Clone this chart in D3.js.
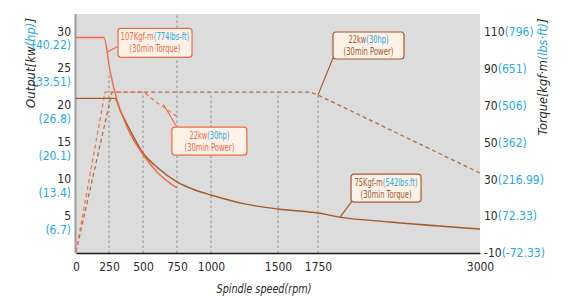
<!DOCTYPE html>
<html>
<head>
<meta charset="utf-8">
<script src="https://cdn.jsdelivr.net/npm/d3@7"></script>
<style>
  body { margin: 0; background: #fff; }
  svg { display: block; font-family: "DejaVu Sans Condensed", "DejaVu Sans", sans-serif; font-stretch: condensed; }
</style>
</head>
<body>
<svg id="chart" width="572" height="299"></svg>
<script>
// --- data ---
const speedTicks = [0, 250, 500, 750, 1000, 1500, 1750, 3000];
const outputTicks = [30, 25, 20, 15, 10, 5];
const outputTicksHp = ["40.22", "33.51", "26.8", "20.1", "13.4", "6.7"];
const torqueTicks = [110, 90, 70, 50, 30, 10, -10];
const torqueTicksLbs = ["796", "651", "506", "362", "216.99", "72.33", "-72.33"];

// [rpm, kgf-m]
const torque107 = [[0, 107], [212, 107], [257, 89], [309, 73], [368, 61], [404, 55], [500, 43.5], [610, 33.5], [750, 25.3]];
const torque75 = [[0, 74], [294, 74], [331, 67.6], [404, 56.8], [500, 44.3], [610, 36.2], [750, 28.6], [882, 24.2],
                  [1000, 21.5], [1242, 16.8], [1500, 13.9], [1750, 11.7], [1920, 9.5], [2306, 6.8], [3000, 3.0]];
// [rpm, kw]
const powerRed = [[0, 1], [220, 22.7], [505, 22.7], [600, 21.3], [750, 19.4]];
const powerBrown = [[0, 1], [272, 22.7], [1700, 22.7], [1750, 22.3], [3000, 11.7]];

// dotted speed guides: [rpm, top in kw] (null = full height)
const guides = [[250, 25.3], [500, 22.7], [750, null], [1000, 22.7], [1500, 22.7], [1750, 22.3]];

const C = {
  red: "#ee6a42", redDash: "#f07a52", brown: "#a4592c", brownDash: "#b06d3f",
  blue: "#27aae1", ink: "#2b2b2b", plot: "#dcdcdc", boxFill: "#fdf1e8"
};

const svg = d3.select("#chart");
const plot = { left: 76, right: 480, top: 14, bottom: 253 };

// the original drawing is not strictly linear on the speed axis
const x = d3.scaleLinear()
  .domain(speedTicks)
  .range([76, 109, 143, 177, 211, 278, 318, 480]);
const yKw = d3.scaleLinear().domain([0.85, 33.3]).range([plot.bottom, plot.top]);
const yTq = d3.scaleLinear().domain([-10, 119.8]).range([plot.bottom, plot.top]);

// text is placed at 0,0 and positioned by transform; squeeze it to a width
// because the source used a narrow face we don't have
function placeText(sel, tx, ty, w, rot) {
  const k = w ? Math.min(1, w / sel.node().getComputedTextLength()) : 1;
  sel.attr("transform", `translate(${tx},${ty})${rot ? ` rotate(${rot})` : ""} scale(${k},1)`);
}

svg.append("rect")
  .attr("x", plot.left).attr("y", plot.top)
  .attr("width", plot.right - plot.left).attr("height", plot.bottom - plot.top)
  .attr("fill", C.plot);

// guides
svg.append("g").selectAll("line").data(guides).enter().append("line")
  .attr("x1", d => x(d[0])).attr("x2", d => x(d[0]))
  .attr("y1", plot.bottom)
  .attr("y2", d => d[1] == null ? plot.top : yKw(d[1]))
  .attr("stroke", "#8c8c8c").attr("stroke-width", 1).attr("stroke-dasharray", "2.5,2.5");

// left & bottom axis lines
svg.append("line").attr("x1", plot.left - 0.5).attr("x2", plot.left - 0.5)
  .attr("y1", plot.top).attr("y2", plot.bottom)
  .attr("stroke", "#9a9a9a").attr("stroke-width", 2);

const xAxis = svg.append("g")
  .attr("transform", `translate(0,${plot.bottom})`)
  .attr("font-family", null).attr("font-size", null)
  .call(d3.axisBottom(x).tickValues(speedTicks).tickSize(0).tickPadding(9.5).tickFormat(d3.format("d")));
xAxis.select(".domain").attr("stroke", "#1a1a1a").attr("stroke-width", 1.6);
xAxis.selectAll("text").attr("fill", C.ink).style("font-size", "12px");
xAxis.attr("font-family", null);

// curves
const lineKw = d3.line().x(d => x(d[0])).y(d => yKw(d[1]));
const lineTq = d3.line().x(d => x(d[0])).y(d => yTq(d[1])).curve(d3.curveMonotoneX);

svg.append("path").datum(powerBrown).attr("d", lineKw)
  .attr("fill", "none").attr("stroke", C.brownDash).attr("stroke-width", 1.3).attr("stroke-dasharray", "4,3");
svg.append("path").datum(powerRed).attr("d", lineKw)
  .attr("fill", "none").attr("stroke", C.redDash).attr("stroke-width", 1.3).attr("stroke-dasharray", "4,3");
svg.append("path").datum(torque75).attr("d", lineTq)
  .attr("fill", "none").attr("stroke", C.brown).attr("stroke-width", 1.4);
svg.append("path").datum(torque107).attr("d", lineTq)
  .attr("fill", "none").attr("stroke", C.red).attr("stroke-width", 1.4);

// left tick labels (kw over hp)
const lt = svg.append("g").selectAll("g").data(outputTicks).enter().append("g")
  .attr("transform", d => `translate(71,${yKw(d)})`)
  .style("font-size", "12px").attr("text-anchor", "end");
lt.append("text").attr("y", -7).attr("dy", "0.35em").attr("fill", C.ink).text(d => d);
lt.append("text").attr("y", 7).attr("dy", "0.35em").attr("fill", C.blue).text((d, i) => `(${outputTicksHp[i]})`);

// right tick labels
const rt = svg.append("g").selectAll("text").data(torqueTicks).enter().append("text")
  .attr("x", 484).attr("y", d => yTq(d)).attr("dy", "0.35em")
  .style("font-size", "12px");
rt.append("tspan").attr("fill", C.ink).text(d => d);
rt.append("tspan").attr("fill", C.blue).text((d, i) => `(${torqueTicksLbs[i]})`);

// axis titles
svg.append("text").attr("dy", "0.35em")
  .attr("text-anchor", "middle").attr("fill", C.ink)
  .style("font-size", "13px").style("font-style", "italic")
  .text("Spindle speed(rpm)")
  .call(placeText, 264, 288, 95);

const lTitle = svg.append("text").attr("dy", "0.35em")
  .attr("text-anchor", "middle").style("font-size", "13px").style("font-style", "italic");
lTitle.append("tspan").attr("fill", C.ink).text("Output[kw");
lTitle.append("tspan").attr("fill", C.blue).text("(hp)");
lTitle.append("tspan").attr("fill", C.ink).text("]");
lTitle.call(placeText, 30, 63, 90, -90);

const rTitle = svg.append("text").attr("dy", "0.35em")
  .attr("text-anchor", "middle").style("font-size", "13px").style("font-style", "italic");
rTitle.append("tspan").attr("fill", C.ink).text("Torque[kgf·m");
rTitle.append("tspan").attr("fill", C.blue).text("(lbs·ft)");
rTitle.append("tspan").attr("fill", C.ink).text("]");
rTitle.call(placeText, 542, 77, 117, -90);

// annotations: anchor on a curve, box offset from that anchor, text widths
const notes = [
  { at: [235, 99], scale: yTq, color: C.red, box: [11, -24, 74, 29], from: [11, -6],
    l1: ["107Kgf-m", "(774lbs-ft)"], l2: "(30min Torque)", w: [69, 51] },
  { at: [650, 21.0], scale: yKw, color: C.red, box: [8.5, 22.5, 75, 28], from: [13.5, 22.5],
    l1: ["22kw", "(30hp)"], l2: "(30min Power)", w: [40, 50] },
  { at: [1750, 22.3], scale: yKw, color: C.brown, box: [15, -63, 71, 27], from: [15, -37],
    l1: ["22kw", "(30hp)"], l2: "(30min Power)", w: [40, 50] },
  { at: [1920, 9.5], scale: yTq, color: C.brown, box: [11, -43, 70, 28], from: [12, -16],
    l1: ["75Kgf-m", "(542lbs.ft)"], l2: "(30min Torque)", w: [63, 51] }
];

notes.forEach(n => {
  const ax = x(n.at[0]), ay = n.scale(n.at[1]);
  const g = svg.append("g");
  g.append("line")
    .attr("x1", ax + n.from[0]).attr("y1", ay + n.from[1])
    .attr("x2", ax).attr("y2", ay)
    .attr("stroke", n.color).attr("stroke-width", 1.1);
  const bx = ax + n.box[0], by = ay + n.box[1], bw = n.box[2], bh = n.box[3];
  g.append("rect")
    .attr("x", bx).attr("y", by).attr("width", bw).attr("height", bh)
    .attr("rx", 3).attr("fill", C.boxFill).attr("stroke", n.color).attr("stroke-width", 1.2);
  const t1 = g.append("text").attr("dy", "0.35em")
    .attr("text-anchor", "middle").style("font-size", "10px");
  t1.append("tspan").attr("fill", n.color).text(n.l1[0]);
  t1.append("tspan").attr("fill", C.blue).text(n.l1[1]);
  t1.call(placeText, bx + bw / 2, by + bh / 2 - 6, n.w[0]);
  g.append("text").attr("dy", "0.35em")
    .attr("text-anchor", "middle").attr("fill", n.color).style("font-size", "10px")
    .text(n.l2)
    .call(placeText, bx + bw / 2, by + bh / 2 + 6, n.w[1]);
});
</script>
</body>
</html>
